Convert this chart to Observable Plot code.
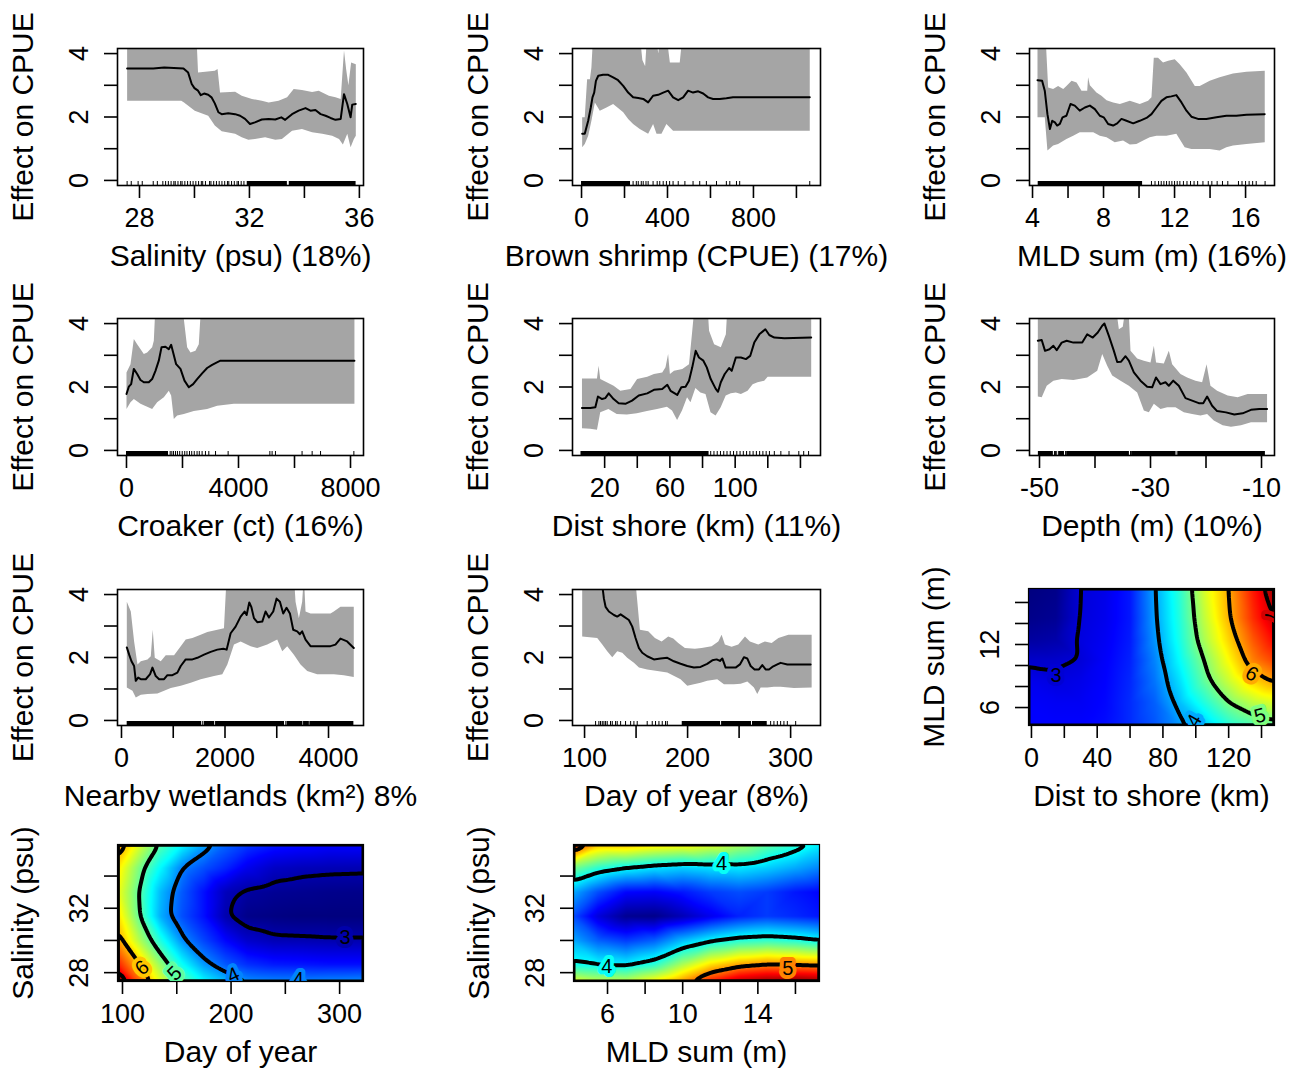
<!DOCTYPE html>
<html><head><meta charset="utf-8">
<script src="https://cdn.jsdelivr.net/npm/d3@7"></script>
<script src="https://cdn.jsdelivr.net/npm/@observablehq/plot@0.6"></script>
<style>
body{margin:0;background:#fff;}
#fig{position:relative;width:1301px;height:1071px;overflow:hidden;background:#fff;}
</style></head><body><div id="fig"></div><script>
// ---------- Partial dependence data ([x, effect]) ----------
const salMean = [[27.55,3.53],[28.5,3.53],[28.9,3.56],[29.6,3.53],[29.77,3.40],[29.9,3.04],[30.0,2.91],[30.13,2.83],[30.23,2.69],[30.35,2.74],[30.5,2.70],[30.62,2.62],[30.74,2.43],[30.87,2.15],[30.99,2.09],[31.23,2.12],[31.48,2.09],[31.66,2.04],[31.84,1.94],[32.02,1.78],[32.2,1.83],[32.45,1.92],[32.7,1.94],[32.94,1.92],[33.16,1.99],[33.3,1.91],[33.55,2.09],[33.79,2.20],[34.04,2.28],[34.22,2.20],[34.4,2.22],[34.59,2.09],[34.77,2.04],[34.95,1.97],[35.13,1.91],[35.32,1.94],[35.44,2.72],[35.56,2.41],[35.68,1.99],[35.74,2.39],[35.87,2.41]];
const salUpper = [[27.55,4.6],[30.07,4.6],[30.13,3.40],[30.74,3.46],[30.84,3.51],[30.93,2.77],[31.48,2.80],[31.72,2.67],[32.09,2.57],[32.45,2.51],[32.7,2.46],[33.06,2.51],[33.37,2.62],[33.61,2.88],[33.91,2.85],[34.28,2.79],[34.52,2.83],[34.89,2.67],[35.13,2.62],[35.32,2.57],[35.44,4.1],[35.52,3.5],[35.6,3.0],[35.7,3.72],[35.87,3.66]];
const salLower = [[27.55,2.51],[29.52,2.51],[29.62,2.46],[30.01,2.20],[30.5,2.04],[30.74,1.73],[30.99,1.55],[31.48,1.47],[31.72,1.36],[31.96,1.28],[32.2,1.31],[32.57,1.36],[32.94,1.28],[33.18,1.31],[33.55,1.57],[33.91,1.62],[34.28,1.52],[34.65,1.47],[35.01,1.41],[35.26,1.31],[35.4,1.13],[35.56,1.47],[35.68,1.05],[35.8,1.31],[35.87,1.41]];
const salRugSparse = [27.55,27.7,27.95,28.1,28.5,28.65,28.85,28.95,29.05,29.15,29.25,29.3,29.4,29.5,29.55,29.65,29.75,29.85,29.95,30.05,30.15,30.25,30.3,30.4,30.55,30.6,30.7,30.8,30.9,31.0,31.1,31.2,31.25,31.35,31.45,31.55,31.6,31.7,31.8];
const salRugDense = [[31.92,33.38],[33.45,35.88]];

const shrMean = [[3,1.47],[15,1.47],[31,1.88],[43,2.30],[51,2.62],[59,2.77],[67,3.14],[78,3.30],[100,3.33],[124,3.33],[147,3.25],[170,3.16],[194,2.98],[217,2.77],[240,2.62],[264,2.60],[287,2.57],[310,2.46],[333,2.67],[357,2.70],[380,2.77],[403,2.83],[426,2.62],[450,2.53],[473,2.62],[496,2.83],[519,2.77],[543,2.81],[566,2.74],[589,2.62],[612,2.57],[643,2.57],[674,2.59],[705,2.62],[1062,2.62]];
const shrUpper = [[3,1.99],[15,1.99],[26,3.19],[39,3.19],[46,3.56],[54,4.6],[271,4.6],[283,3.8],[296,3.6],[305,4.6],[346,4.6],[357,4.0],[367,4.6],[395,4.6],[411,3.72],[457,3.72],[470,4.6],[1062,4.6]];
const shrLower = [[3,1.05],[15,1.15],[31,1.41],[46,1.88],[62,2.46],[85,2.20],[116,2.30],[147,2.41],[170,2.28],[194,2.15],[217,1.94],[240,1.78],[271,1.62],[310,1.47],[333,1.78],[349,1.47],[372,1.47],[395,1.78],[426,1.57],[1062,1.57]];
const shrRugSparse = [240,255,264,278,287,300,310,333,352,364,380,395,410,426,450,481,519,550,581,628,674,690,721,736,1062];
const shrRugDense = [[0,228]];

const mldMean = [[4.28,3.16],[4.54,3.14],[4.69,2.83],[4.84,2.09],[4.98,1.62],[5.11,1.88],[5.26,1.83],[5.39,1.73],[5.54,1.78],[5.69,1.99],[5.91,2.04],[6.14,2.41],[6.38,2.36],[6.66,2.20],[6.95,2.30],[7.23,2.36],[7.51,2.25],[7.79,2.04],[8.01,1.99],[8.26,1.78],[8.54,1.73],[8.77,1.80],[9.01,1.94],[9.29,1.88],[9.67,1.80],[10.04,1.88],[10.42,1.97],[10.7,2.09],[10.98,2.30],[11.26,2.51],[11.54,2.62],[11.82,2.65],[12.1,2.69],[12.39,2.46],[12.67,2.20],[12.95,2.01],[13.32,1.94],[13.79,1.94],[14.36,1.99],[14.92,2.04],[15.48,2.04],[16.05,2.07],[17.08,2.09]];
const mldUpper = [[4.28,4.6],[4.73,4.6],[4.88,2.93],[5.16,2.88],[5.44,2.98],[5.73,2.88],[5.91,2.98],[6.2,3.14],[6.48,3.09],[6.76,2.83],[7.08,2.83],[7.13,3.25],[7.23,3.0],[7.6,2.77],[7.88,2.67],[8.17,2.53],[8.54,2.46],[8.92,2.41],[9.48,2.51],[10.04,2.41],[10.51,2.51],[10.7,2.62],[10.83,3.87],[11.07,3.87],[11.35,3.72],[11.64,3.77],[12.01,3.82],[12.29,3.66],[12.67,3.40],[13.14,2.98],[13.42,2.98],[13.98,3.14],[14.54,3.25],[15.29,3.37],[16.05,3.43],[17.08,3.46]];
const mldLower = [[4.28,1.99],[4.69,1.99],[4.84,0.94],[5.16,1.10],[5.44,1.15],[5.91,1.31],[6.29,1.41],[6.66,1.52],[7.04,1.52],[7.42,1.52],[7.79,1.41],[8.17,1.36],[8.63,1.20],[9.1,1.26],[9.48,1.13],[9.85,1.15],[10.23,1.26],[10.6,1.36],[10.98,1.41],[11.54,1.41],[12.1,1.47],[12.57,1.05],[12.95,0.99],[13.42,0.99],[13.98,0.99],[14.54,0.94],[14.92,1.05],[15.29,1.10],[16.05,1.15],[17.08,1.20]];
const mldRugSparse = [10.7,10.9,11.1,11.25,11.4,11.55,11.7,11.85,12.0,12.15,12.3,12.5,12.7,12.9,13.1,13.3,13.6,13.9,14.1,14.4,14.7,15.0,15.6,15.8,16.0,16.2,16.4,16.6,17.1];
const mldRugDense = [[4.32,10.2]];

const crkMean = [[0,1.78],[83,2.01],[167,2.09],[262,2.57],[381,2.41],[500,2.22],[619,2.15],[797,2.15],[916,2.25],[1035,2.51],[1154,2.83],[1250,3.25],[1392,3.27],[1511,3.19],[1595,3.33],[1666,3.09],[1773,2.72],[1928,2.57],[2071,2.20],[2225,1.99],[2380,2.09],[2523,2.25],[2701,2.43],[2880,2.60],[3058,2.70],[3213,2.77],[3356,2.83],[8140,2.83]];
const crkUpper = [[0,2.46],[143,2.72],[262,3.51],[381,3.35],[619,3.04],[738,3.09],[916,3.25],[976,3.46],[1035,4.6],[1987,4.6],[2166,3.25],[2285,3.09],[2463,3.14],[2582,3.35],[2666,4.6],[8140,4.6]];
const crkLower = [[0,1.31],[143,1.52],[262,1.62],[500,1.47],[738,1.38],[916,1.31],[1095,1.52],[1333,1.68],[1511,1.88],[1595,1.73],[1690,0.99],[1809,1.10],[2047,1.15],[2404,1.24],[2880,1.31],[3237,1.41],[3832,1.47],[8140,1.47]];
const crkRugSparse = [1560,1620,1680,1750,1820,1900,1990,2080,2160,2250,2330,2420,2520,2600,2700,2820,2940,3180,3630,5120,5200,5320,6270,6630,6930,8120];
const crkRugDense = [[0,1500]];

const distMean = [[6.1,1.34],[11.2,1.34],[14.3,1.36],[15.9,1.70],[18.4,1.62],[20.4,1.65],[22.5,1.80],[25.5,1.62],[28.6,1.49],[32.7,1.47],[36.8,1.57],[40.9,1.73],[46.1,1.80],[50.2,1.91],[55.3,1.94],[58.4,2.07],[60.4,1.88],[64.5,1.75],[67.0,1.99],[69.6,2.01],[71.7,2.20],[73.7,2.62],[75.8,3.14],[77.8,2.93],[80.5,2.83],[82.6,2.62],[85.0,2.25],[88.1,1.94],[89.5,1.85],[91.2,2.15],[93.6,2.41],[96.3,2.60],[97.9,2.51],[100.4,2.93],[103.5,2.93],[106.6,2.88],[109.2,2.98],[111.7,3.40],[114.8,3.66],[118.5,3.82],[120.9,3.64],[124.0,3.56],[130.2,3.54],[146.6,3.56]];
const distUpper = [[6.1,2.27],[15.3,2.27],[16.3,2.67],[17.3,2.25],[25.5,2.04],[29.6,1.88],[35.8,1.94],[39.9,2.25],[46.1,2.32],[50.2,2.41],[55.3,2.46],[57.3,2.62],[58.9,3.04],[60.0,2.41],[62.5,2.51],[67.6,2.57],[71.7,2.72],[73.7,3.77],[75.2,4.6],[83.0,4.6],[84.0,3.77],[87.1,3.35],[91.2,3.25],[94.3,3.66],[95.3,4.6],[146.6,4.6]];
const distLower = [[6.1,0.70],[11.2,0.68],[15.3,0.65],[17.3,1.20],[22.3,1.31],[27.4,1.15],[33.6,1.13],[39.7,1.17],[45.9,1.24],[52.1,1.31],[58.2,1.38],[61.3,1.26],[64.4,0.96],[67.4,1.26],[70.5,1.68],[72.6,1.52],[75.6,1.97],[78.7,1.83],[81.8,1.78],[84.9,1.20],[88.0,1.10],[91.1,1.36],[94.2,1.73],[97.3,1.80],[100.4,1.83],[103.5,1.78],[107.6,1.88],[110.7,2.09],[113.7,2.15],[117.8,2.20],[119.9,2.32],[146.6,2.32]];
const distRugSparse = [85,87,89,91,93,95,97,99,101,103,105,107,109,111,113,115,117,119,121,124,128,133,139,142,145];
const distRugDense = [[5.5,84]];

const depMean = [[-50.3,3.46],[-49.6,3.48],[-49.0,3.14],[-48.2,3.19],[-47.5,3.30],[-46.9,3.16],[-46.0,3.40],[-45.1,3.46],[-43.9,3.40],[-42.3,3.40],[-41.4,3.66],[-40.4,3.56],[-39.5,3.72],[-38.7,3.93],[-38.3,4.0],[-37.5,3.61],[-36.6,3.14],[-36.0,2.79],[-35.3,2.80],[-34.5,2.97],[-33.9,2.83],[-33.0,2.46],[-31.8,2.20],[-30.6,2.01],[-29.7,1.99],[-29.0,2.30],[-28.2,2.09],[-27.3,2.15],[-26.7,2.04],[-25.9,2.20],[-24.9,2.04],[-23.7,1.65],[-22.5,1.57],[-21.3,1.49],[-20.5,1.49],[-19.8,1.70],[-18.9,1.41],[-18.0,1.24],[-16.4,1.20],[-14.9,1.13],[-13.4,1.17],[-11.9,1.28],[-10.4,1.31],[-9.0,1.31]];
const depUpper = [[-50.3,4.6],[-36.3,4.6],[-35.7,3.82],[-35.0,3.9],[-34.4,4.6],[-34.0,4.6],[-33.6,3.14],[-32.4,2.90],[-31.2,2.83],[-30.0,2.77],[-29.4,3.30],[-29.0,2.77],[-27.6,2.74],[-26.7,3.14],[-26.1,2.72],[-24.6,2.41],[-23.4,2.30],[-21.9,2.20],[-20.7,2.15],[-19.9,2.72],[-19.2,2.04],[-18.0,1.88],[-16.1,1.73],[-14.3,1.68],[-12.5,1.78],[-9.0,1.78]];
const depLower = [[-50.3,1.70],[-49.6,1.68],[-48.7,2.04],[-47.5,2.20],[-46.0,2.25],[-43.9,2.22],[-41.4,2.30],[-39.6,2.51],[-38.7,3.04],[-37.8,2.67],[-36.9,2.36],[-35.4,2.20],[-33.9,2.04],[-32.4,1.83],[-31.2,1.26],[-30.3,1.20],[-29.4,1.47],[-28.2,1.31],[-27.0,1.36],[-25.5,1.36],[-24.0,1.20],[-22.5,1.15],[-21.0,1.10],[-19.8,1.15],[-18.6,0.94],[-17.0,0.79],[-15.5,0.75],[-13.7,0.79],[-11.9,0.89],[-9.0,0.89]];
const depRugSparse = [-47.3,-46.6,-45.3,-33.6,-25.2];
const depRugDense = [[-50.2,-47.5],[-47.1,-46.8],[-46.4,-45.5],[-45.1,-33.8],[-33.4,-25.4],[-25.0,-9.3]];

const wetMean = [[103,2.32],[148,2.09],[193,1.88],[244,1.73],[276,1.26],[322,1.36],[373,1.31],[469,1.31],[553,1.47],[598,1.68],[662,1.41],[727,1.31],[823,1.31],[887,1.44],[984,1.44],[1080,1.52],[1145,1.73],[1241,1.94],[1370,1.94],[1466,1.99],[1595,2.09],[1723,2.18],[1852,2.25],[1968,2.28],[2032,2.25],[2109,2.77],[2205,2.98],[2302,3.30],[2379,3.46],[2418,3.35],[2469,3.75],[2508,3.61],[2559,3.25],[2623,3.12],[2720,3.14],[2784,3.46],[2849,3.27],[2932,3.46],[2996,3.87],[3061,3.77],[3125,3.40],[3189,3.58],[3254,3.40],[3318,2.88],[3395,2.83],[3446,2.74],[3491,2.83],[3556,2.57],[3652,2.36],[3845,2.36],[4038,2.36],[4134,2.41],[4231,2.60],[4360,2.51],[4488,2.30]];
const wetUpper = [[103,3.77],[180,3.46],[244,2.51],[309,1.78],[373,1.88],[502,1.94],[566,2.04],[604,2.88],[643,1.99],[759,1.88],[855,2.07],[1016,2.07],[1145,2.36],[1241,2.57],[1370,2.62],[1530,2.72],[1659,2.81],[1852,2.88],[1980,2.93],[2032,4.6],[3331,4.6],[3363,3.77],[3427,3.25],[3491,3.77],[3524,4.6],[3556,3.46],[3652,3.40],[4038,3.40],[4102,3.46],[4231,3.61],[4488,3.61]];
const wetLower = [[103,1.05],[212,0.94],[276,0.73],[373,0.82],[502,0.84],[694,0.86],[823,0.94],[952,1.03],[1145,1.10],[1337,1.20],[1530,1.31],[1788,1.41],[1948,1.47],[2045,1.78],[2173,2.41],[2302,2.51],[2495,2.36],[2623,2.30],[2816,2.41],[3009,2.57],[3106,2.20],[3202,2.36],[3331,2.09],[3459,1.78],[3588,1.57],[3781,1.47],[4102,1.47],[4295,1.44],[4488,1.38]];
const wetRugSparse = [1570,1815,3175,3510,3640];
const wetRugDense = [[110,1550],[1600,1800],[1830,3150],[3200,3500],[3520,3630],[3650,4490]];

const dayMean = [[98,4.6],[117,4.35],[118.8,3.87],[120.4,3.61],[123.6,3.46],[128.5,3.35],[131.7,3.30],[135,3.37],[138.2,3.30],[143,3.19],[146.3,2.98],[149.5,2.62],[152.8,2.30],[156,2.15],[160.8,2.04],[167.3,1.94],[173.8,1.97],[180.3,1.99],[186.7,1.88],[193.2,1.80],[199.7,1.73],[206.1,1.68],[212.6,1.70],[219,1.80],[224,1.91],[228.2,1.94],[231.4,1.89],[233.7,1.97],[236.9,1.68],[241.7,1.68],[246.6,1.68],[250.8,1.78],[254.7,2.01],[257.9,1.97],[261.2,1.73],[265,1.62],[269.3,1.62],[272.5,1.76],[275.7,1.62],[279,1.62],[282.2,1.70],[287.1,1.78],[290.3,1.83],[296.8,1.78],[319.4,1.78]];
const dayUpper = [[97.7,4.6],[148.9,4.6],[153.7,2.88],[161.8,2.83],[168.3,2.62],[174.8,2.51],[181.2,2.67],[186.1,2.60],[190.9,2.46],[197.4,2.30],[207.1,2.28],[213.6,2.30],[223.3,2.36],[229.8,2.51],[233,2.72],[236.2,2.41],[242.7,2.34],[249.2,2.41],[255.7,2.67],[260.5,2.51],[268.6,2.41],[275,2.51],[281.6,2.46],[288.1,2.62],[297.8,2.72],[320.4,2.72]];
const dayLower = [[97.7,2.67],[112.3,2.62],[117.2,2.41],[122,2.20],[126.9,2.01],[131.7,2.20],[136.6,2.15],[141.4,1.99],[147.9,1.83],[152.8,1.68],[160.8,1.62],[170.6,1.57],[180.3,1.52],[193.2,1.31],[199.7,1.10],[206.1,1.15],[212.6,1.20],[219,1.26],[228.8,1.31],[235.3,1.15],[245,1.15],[251.5,1.17],[258,1.24],[264.4,1.05],[267.6,0.84],[270.9,1.05],[277.3,1.05],[283.8,1.07],[290.3,1.07],[303.2,1.03],[320.4,1.05]];
const dayRugSparse = [110.7,113.9,115.5,117.2,118.8,120.4,122,125.2,126.9,130.1,131.7,135,139.8,144.7,147.9,151.1,160.8,165.7,168.9,172.2,175.4,178.6,180.3,280.6,283.8,287.1,290.3,293.5,296.8,304.9];
const dayRugDense = [[194.8,232],[233,262],[263,277.3]];

// ---------- Interaction heatmaps (grid values) ----------
const hmA_x = [-1.8,15,30,45,60,75,90,105,120,135,147.9];
const hmA_y = [4.29,6.5,8.5,10.5,12.5,14.5,17.33];
const hmA_z = [
  [3.2,3.2,3.2,3.25,3.4,3.6,3.9,4.15,4.55,4.75,4.85],
  [3.18,3.15,3.15,3.22,3.4,3.65,4.1,4.55,5.0,5.3,5.45],
  [3.12,3.05,3.1,3.2,3.38,3.75,4.25,4.85,5.35,5.8,6.05],
  [2.95,2.96,3.02,3.18,3.35,3.82,4.4,5.0,5.6,6.2,6.5],
  [2.75,2.8,3.05,3.15,3.32,3.9,4.5,5.2,5.8,6.4,6.8],
  [2.65,2.7,3.03,3.12,3.3,3.95,4.55,5.3,5.95,6.6,7.05],
  [2.6,2.65,3.02,3.1,3.3,3.98,4.6,5.4,6.0,6.7,7.3]];
const hmA_labels = [{x:15,y:9.0,t:"3",level:3,r:0},{x:99,y:4.75,t:"4",level:4,r:-60},{x:139,y:5.2,t:"5",level:5,r:-15},{x:134,y:9.2,t:"6",level:6,r:30},{x:146,y:14.7,t:"7",level:7,r:90}];

const hmB_x = [95.4,115,135,155,175,195,215,240,265,290,322];
const hmB_y = [27.45,28.5,30,31.5,33,34.5,35.96];
const hmB_z = [
  [7.5,6.5,5.6,5.0,4.55,4.25,4.05,4.0,4.0,4.02,4.05],
  [6.8,6.05,5.25,4.6,4.1,3.8,3.6,3.5,3.48,3.45,3.45],
  [6.2,5.4,4.7,4.05,3.7,3.4,3.15,3.05,3.04,3.02,3.02],
  [5.9,5.05,4.2,3.75,3.45,3.02,2.85,2.82,2.8,2.8,2.8],
  [5.7,5.0,4.25,3.8,3.45,3.08,2.95,2.9,2.88,2.86,2.85],
  [5.85,5.15,4.55,3.98,3.75,3.55,3.3,3.12,3.07,3.05,3.04],
  [6.3,5.6,4.95,4.55,4.15,3.85,3.65,3.5,3.45,3.4,3.4]];
const hmB_labels = [{x:305,y:30.15,t:"3",level:3,r:0},{x:202,y:27.85,t:"4",level:4,r:-25},{x:262,y:27.55,t:"4",level:4,r:0},{x:148,y:27.95,t:"5",level:5,r:-45},{x:118,y:28.3,t:"6",level:6,r:-40}];

const hmC_x = [4.19,5.5,7,8.5,10,11.5,13,14.5,16,17.28];
const hmC_y = [27.45,28.5,30,31.5,33,34.5,35.96];
const hmC_z = [
  [4.6,4.5,4.5,4.7,4.95,5.3,5.55,5.65,5.7,5.65],
  [4.04,3.98,3.95,4.1,4.45,4.75,4.92,5.0,4.98,4.95],
  [3.75,3.55,3.45,3.55,3.8,3.97,4.08,4.12,4.07,3.99],
  [3.5,3.2,3.0,2.98,3.1,3.25,3.38,3.45,3.4,3.35],
  [3.75,3.5,3.3,3.28,3.35,3.45,3.5,3.45,3.35,3.3],
  [4.3,4.1,3.98,3.9,3.85,3.9,3.92,3.85,3.75,3.65],
  [5.3,4.85,4.85,4.75,4.7,4.6,4.45,4.25,4.1,3.95]];
const hmC_labels = [{x:12.07,y:34.8,t:"4",level:4,r:0},{x:5.96,y:28.4,t:"4",level:4,r:0},{x:15.6,y:28.25,t:"5",level:5,r:0}];

// ---------- Drawing ----------
const FONT = '"Liberation Sans", Arial, Helvetica, sans-serif';
const jet = ["#00007F","#0000FF","#007FFF","#00FFFF","#7FFF7F","#FFFF00","#FF7F00","#FF0000","#7F0000"];
const effectTicks = [0,1,2,3,4];
const effectLabels = [0,2,4];
const fig = document.getElementById("fig");
const ML = 110, MT = 10, MR = 14, MB = 92;
const fmt = labels => d => labels.includes(d) ? String(d) : "";

function place(svg, box) {
  svg.style.position = "absolute";
  svg.style.left = (box[0] - ML) + "px";
  svg.style.top = (box[1] - MT) + "px";
  svg.style.overflow = "visible";
  fig.appendChild(svg);
}

function commonMarks(c, yTitle) {
  return [
    Plot.axisX({ticks: c.xTicks, tickFormat: fmt(c.xLabels), tickSize: 13, tickPadding: 20, fontSize: 27, lineAnchor: "middle", strokeWidth: 1.6, label: null}),
    Plot.axisY({ticks: c.yTicks, tickFormat: fmt(c.yLabels), tickSize: 13, tickPadding: 25, tickRotate: -90, textAnchor: "middle", lineAnchor: "middle", fontSize: 27, strokeWidth: 1.6, label: null}),
    Plot.text([c.xTitle], {frameAnchor: "bottom", dy: 71, text: d => d, fontSize: 30, textAnchor: "middle", lineAnchor: "middle"}),
    Plot.text([yTitle], {frameAnchor: "left", dx: -94, rotate: -90, text: d => d, fontSize: 30, textAnchor: "middle", lineAnchor: "middle"})
  ];
}

function pdPanel(c) {
  const bw = c.box[2] - c.box[0], bh = c.box[3] - c.box[1];
  const poly = c.upper.concat(c.lower.slice().reverse());
  const svg = Plot.plot({
    width: bw + ML + MR, height: bh + MT + MB,
    marginLeft: ML, marginTop: MT, marginRight: MR, marginBottom: MB,
    style: {fontFamily: FONT, background: "transparent", overflow: "visible", color: "black"},
    x: {domain: c.xDomain}, y: {domain: [-0.16, 4.16]},
    marks: [
      Plot.line(poly, {x: d => d[0], y: d => d[1], fill: "#a5a5a5", stroke: "none", clip: true}),
      Plot.line(c.mean, {x: d => d[0], y: d => d[1], stroke: "black", strokeWidth: 2, clip: true}),
      Plot.rect(c.rugDense, {x1: d => d[0], x2: d => d[1], insetTop: bh - 4, fill: "black"}),
      Plot.tickX(c.rugSparse, {x: d => d, insetTop: bh - 4, stroke: "black", strokeWidth: 1}),
      Plot.frame({stroke: "black", strokeWidth: 1.6}),
      ...commonMarks({...c, yTicks: effectTicks, yLabels: effectLabels}, "Effect on CPUE")
    ]
  });
  place(svg, c.box);
}

function hmPanel(c) {
  const bw = c.box[2] - c.box[0], bh = c.box[3] - c.box[1];
  const pts = [];
  c.ys.forEach((y, j) => c.xs.forEach((x, i) => pts.push({x, y, v: c.z[j][i]})));
  const svg = Plot.plot({
    width: bw + ML + MR, height: bh + MT + MB,
    marginLeft: ML, marginTop: MT, marginRight: MR, marginBottom: MB,
    style: {fontFamily: FONT, background: "transparent", overflow: "visible", color: "black"},
    x: {domain: c.xDomain}, y: {domain: c.yDomain},
    color: {type: "linear", domain: c.zDomain, interpolate: d3.piecewise(d3.interpolateRgb, jet)},
    marks: [
      Plot.raster(pts, {x: "x", y: "y", fill: "v", interpolate: "barycentric", pixelSize: 1}),
      Plot.contour(pts, {x: "x", y: "y", value: "v", interpolate: "barycentric", thresholds: c.levels, blur: 2, stroke: "black", strokeWidth: 4, fill: "none", clip: true}),
      Plot.text(c.labels, {x: "x", y: "y", text: "t", rotate: "r", fill: "black", stroke: "level", strokeWidth: 8, fontSize: 20, lineAnchor: "middle", clip: true}),
      Plot.frame({stroke: "black", strokeWidth: 1.2}),
      ...commonMarks(c, c.yTitle)
    ]
  });
  place(svg, c.box);
}

pdPanel({box: [117,48,363,185], xDomain: [27.2,36.15], mean: salMean, upper: salUpper, lower: salLower, rugSparse: salRugSparse, rugDense: salRugDense, xTicks: [28,30,32,34,36], xLabels: [28,32,36], xTitle: "Salinity (psu) (18%)"});
pdPanel({box: [572,48,820,185], xDomain: [-42,1112], mean: shrMean, upper: shrUpper, lower: shrLower, rugSparse: shrRugSparse, rugDense: shrRugDense, xTicks: [0,200,400,600,800,1000], xLabels: [0,400,800], xTitle: "Brown shrimp (CPUE) (17%)"});
pdPanel({box: [1029,48,1274,185], xDomain: [3.83,17.63], mean: mldMean, upper: mldUpper, lower: mldLower, rugSparse: mldRugSparse, rugDense: mldRugDense, xTicks: [4,6,8,10,12,14,16], xLabels: [4,8,12,16], xTitle: "MLD sum (m) (16%)"});
pdPanel({box: [117,318,363,455], xDomain: [-321,8464], mean: crkMean, upper: crkUpper, lower: crkLower, rugSparse: crkRugSparse, rugDense: crkRugDense, xTicks: [0,2000,4000,6000,8000], xLabels: [0,4000,8000], xTitle: "Croaker (ct) (16%)"});
pdPanel({box: [572,318,820,455], xDomain: [0.3,152.3], mean: distMean, upper: distUpper, lower: distLower, rugSparse: distRugSparse, rugDense: distRugDense, xTicks: [20,40,60,80,100,120,140], xLabels: [20,60,100], xTitle: "Dist shore (km) (11%)"});
pdPanel({box: [1029,318,1274,455], xDomain: [-51.8,-7.66], mean: depMean, upper: depUpper, lower: depLower, rugSparse: depRugSparse, rugDense: depRugDense, xTicks: [-50,-40,-30,-20,-10], xLabels: [-50,-30,-10], xTitle: "Depth (m) (10%)"});
pdPanel({box: [117,589,363,725], xDomain: [-77,4676], mean: wetMean, upper: wetUpper, lower: wetLower, rugSparse: wetRugSparse, rugDense: wetRugDense, xTicks: [0,1000,2000,3000,4000], xLabels: [0,2000,4000], xTitle: "Nearby wetlands (km\u00B2) 8%"});
pdPanel({box: [572,589,820,725], xDomain: [88.3,329], mean: dayMean, upper: dayUpper, lower: dayLower, rugSparse: dayRugSparse, rugDense: dayRugDense, xTicks: [100,150,200,250,300], xLabels: [100,200,300], xTitle: "Day of year (8%)"});

hmPanel({box: [1028,588,1274,725], xDomain: [-1.8,147.9], yDomain: [4.29,17.33], xs: hmA_x, ys: hmA_y, z: hmA_z, zDomain: [2.6,7.4], levels: [3,4,5,6,7], labels: hmA_labels, xTicks: [0,20,40,60,80,100,120,140], xLabels: [0,40,80,120], yTicks: [6,8,10,12,14,16], yLabels: [6,12], xTitle: "Dist to shore (km)", yTitle: "MLD sum (m)"});
hmPanel({box: [117,844,363,981], xDomain: [95.4,322], yDomain: [27.45,35.96], xs: hmB_x, ys: hmB_y, z: hmB_z, zDomain: [2.8,7.5], levels: [3,4,5,6,7], labels: hmB_labels, xTicks: [100,150,200,250,300], xLabels: [100,200,300], yTicks: [28,30,32,34], yLabels: [28,32], xTitle: "Day of year", yTitle: "Salinity (psu)"});
hmPanel({box: [573,844,819,981], xDomain: [4.19,17.28], yDomain: [27.45,35.96], xs: hmC_x, ys: hmC_y, z: hmC_z, zDomain: [2.95,5.7], levels: [4,5], labels: hmC_labels, xTicks: [6,8,10,12,14,16], xLabels: [6,10,14], yTicks: [28,30,32,34], yLabels: [28,32], xTitle: "MLD sum (m)", yTitle: "Salinity (psu)"});
</script></body></html>
